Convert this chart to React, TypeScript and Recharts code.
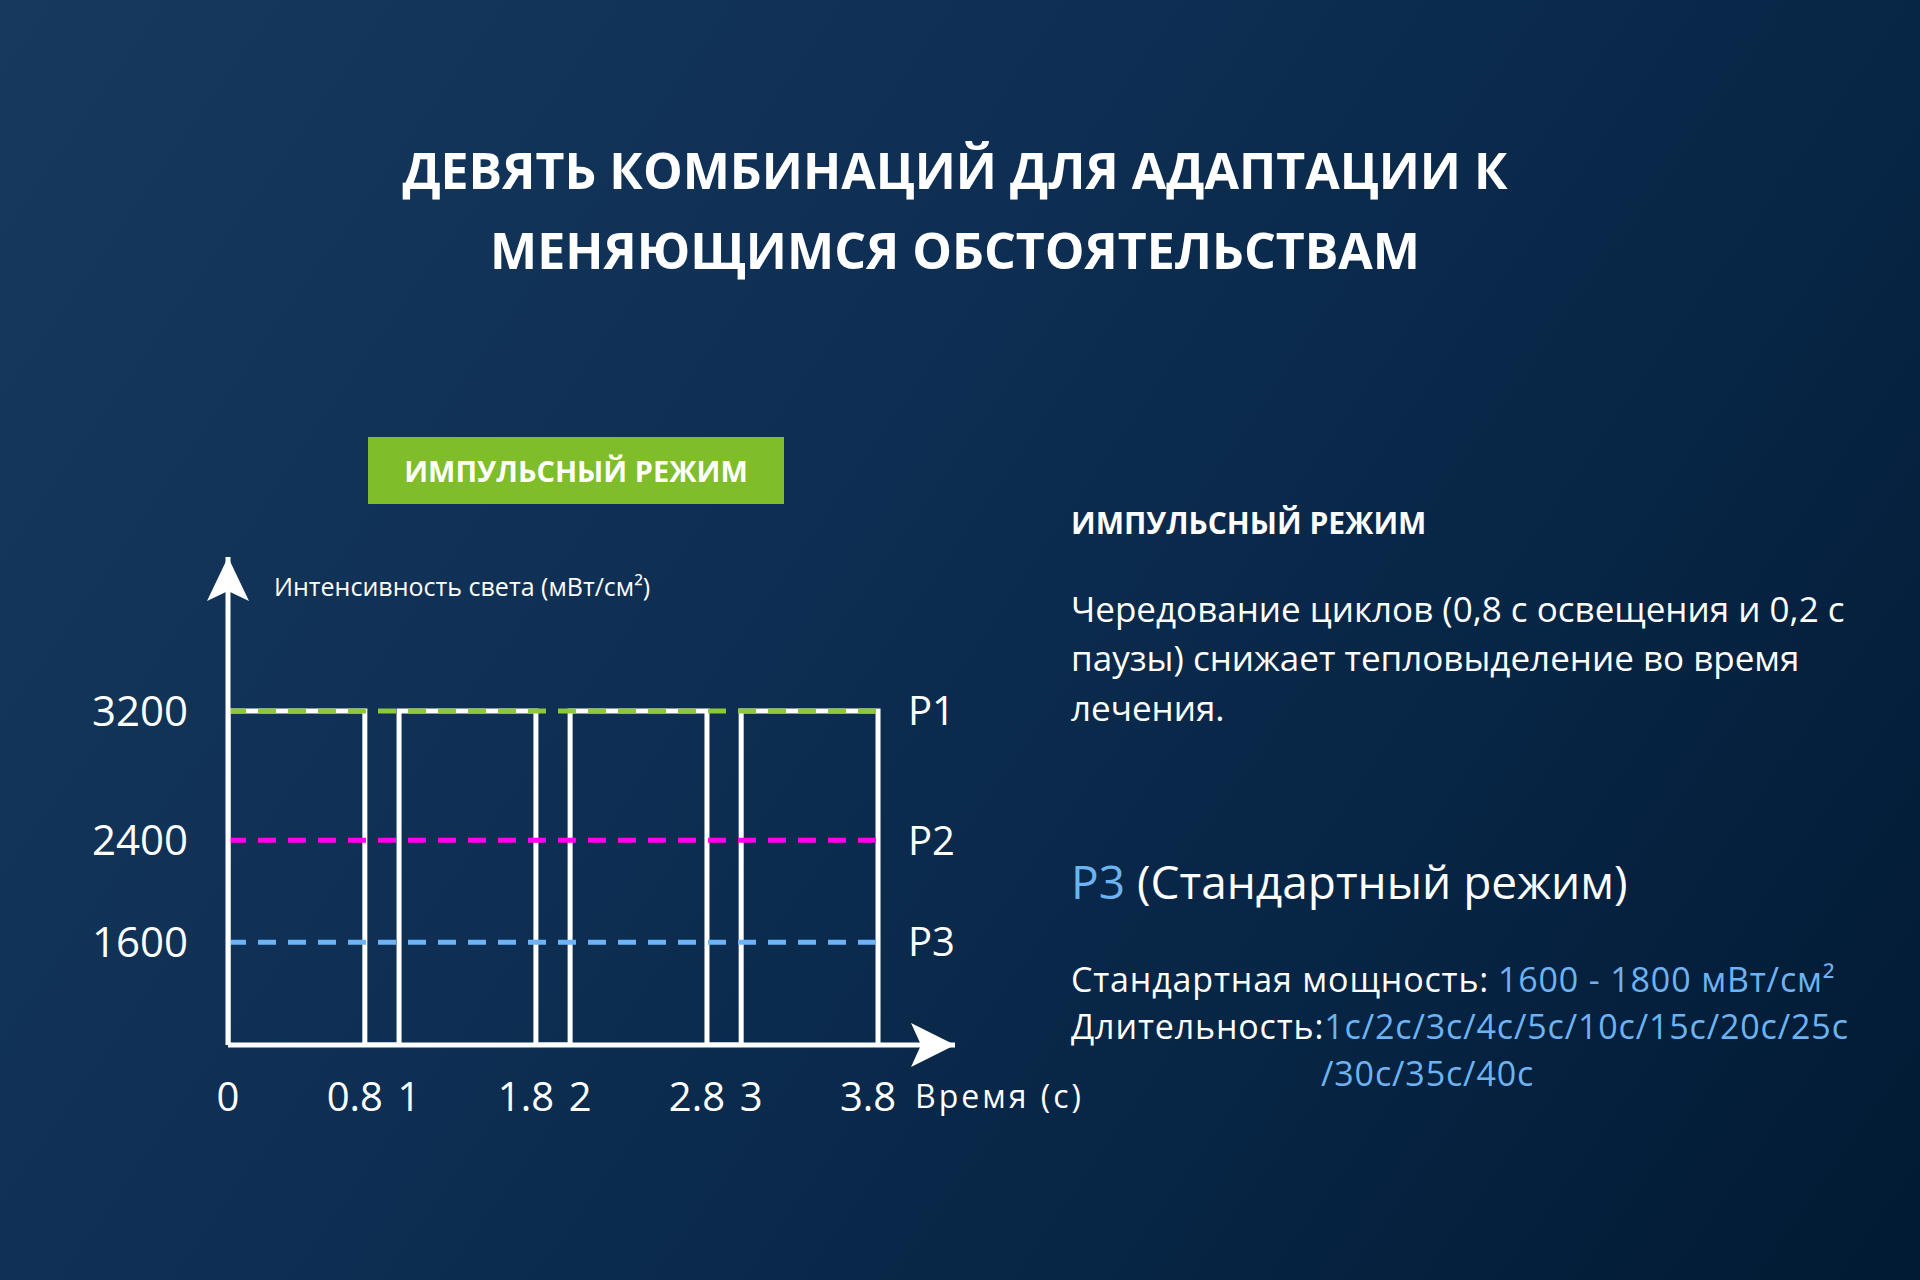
import React from 'react';
import { LineChart, Line, XAxis, YAxis, ReferenceDot, LabelList } from 'recharts';

// ---- data ----
const titleLines = ['ДЕВЯТЬ КОМБИНАЦИЙ ДЛЯ АДАПТАЦИИ К', 'МЕНЯЮЩИМСЯ ОБСТОЯТЕЛЬСТВАМ'];
const badgeText = 'ИМПУЛЬСНЫЙ РЕЖИМ';
const yAxisTitle = 'Интенсивность света (мВт/см²)';
const xAxisTitle = 'Время (с)';

const pulseStarts = [0, 1, 2, 3];
const pulseEnds = [0.8, 1.8, 2.8, 3.8];
const pulsePeak = 3200;
const xTicks = [0, 0.8, 1, 1.8, 2, 2.8, 3, 3.8];
const yTicks = [1600, 2400, 3200];
const levelNames = ['P1', 'P2', 'P3'];
const levelValues = [3200, 2400, 1600];
const xDomain = [0, 4.25];
const yDomain = [0, 4000];

const sideHeading = 'ИМПУЛЬСНЫЙ РЕЖИМ';
const sideParagraph = [
  'Чередование циклов (0,8 с освещения и 0,2 с',
  'паузы) снижает тепловыделение во время',
  'лечения.',
];
const modeName = 'P3';
const modeLabel = '(Стандартный режим)';
const powerLabel = 'Стандартная мощность:';
const powerRange = '1600 - 1800 мВт/см²';
const durationLabel = 'Длительность:';
const durations = ['1с', '2с', '3с', '4с', '5с', '10с', '15с', '20с', '25с', '30с', '35с', '40с'];

// ---- styles ----
const levelColors = ['#8dc63f', '#ff00f0', '#6db3f5'];
const accentBlue = '#6db3f2';
const FONT = '"Open Sans", "Noto Sans", sans-serif';

// build outline of the pulses
const pulseData: { t: number; v: number }[] = [];
pulseStarts.forEach((s, i) => {
  const e = pulseEnds[i];
  pulseData.push({ t: s, v: 0 }, { t: s, v: pulsePeak }, { t: e, v: pulsePeak }, { t: e, v: 0 });
});
const levelData = levelValues.map((v) => [
  { t: pulseStarts[0], v },
  { t: pulseEnds[pulseEnds.length - 1], v },
]);

// schematic (power-law) vertical scale, d3-like interface
function powScale(exponent: number): any {
  let dom: number[] = [0, 1];
  let rng: number[] = [0, 1];
  const f = (v: number) => Math.sign(v) * Math.pow(Math.abs(v), exponent);
  const fi = (v: number) => Math.sign(v) * Math.pow(Math.abs(v), 1 / exponent);
  const scale: any = (value: any) => {
    const x = Number(value);
    const a = f(dom[0]);
    const b = f(dom[dom.length - 1]);
    const t = b === a ? 0.5 : (f(x) - a) / (b - a);
    return rng[0] + t * (rng[rng.length - 1] - rng[0]);
  };
  scale.domain = (...args: any[]) => {
    if (args.length === 0) return dom.slice();
    dom = Array.from(args[0] as any[]).map(Number);
    return scale;
  };
  scale.range = (...args: any[]) => {
    if (args.length === 0) return rng.slice();
    rng = Array.from(args[0] as any[]).map(Number);
    return scale;
  };
  scale.invert = (y: number) => {
    const a = f(dom[0]);
    const b = f(dom[dom.length - 1]);
    const t = (y - rng[0]) / (rng[rng.length - 1] - rng[0]);
    return fi(a + t * (b - a));
  };
  scale.copy = () => powScale(exponent).domain(dom).range(rng);
  scale.ticks = (count = 5) => {
    const lo = dom[0];
    const hi = dom[dom.length - 1];
    const step = (hi - lo) / Math.max(1, count);
    const out: number[] = [];
    for (let i = 0; i <= count; i++) out.push(lo + step * i);
    return out;
  };
  scale.tickFormat = () => (v: number) => String(v);
  scale.clamp = () => scale;
  scale.nice = () => scale;
  scale.unknown = () => scale;
  return scale;
}
const yScale = powScale(1.7);

const UpArrow = (props: any) => {
  const { cx, cy } = props;
  if (cx == null || cy == null) return null;
  return (
    <path
      d={`M${cx},${cy} L${cx - 21},${cy + 44} L${cx},${cy + 34} L${cx + 21},${cy + 44} Z`}
      fill="#ffffff"
    />
  );
};
const RightArrow = (props: any) => {
  const { cx, cy } = props;
  if (cx == null || cy == null) return null;
  return (
    <path
      d={`M${cx},${cy} L${cx - 44},${cy - 22} L${cx - 34},${cy} L${cx - 44},${cy + 22} Z`}
      fill="#ffffff"
    />
  );
};

// x tick: pulse-end labels sit a little to the left, pulse-start labels to the right
const XTick = (props: any) => {
  const { x, y, payload } = props;
  const v = Number(payload?.value);
  const shift = v === 0 ? 0 : Number.isInteger(v) ? 10 : -10;
  return (
    <text
      x={Number(x) + shift}
      y={Number(y)}
      dy="0.71em"
      textAnchor="middle"
      fill="#ffffff"
      fontSize={40}
      fontFamily={FONT}
    >
      {String(v)}
    </text>
  );
};

const makeLevelLabel = (name: string) => (p: any) => {
  if (p.index !== 1) return null;
  const x = Number(p.x);
  const y = Number(p.y);
  return (
    <text x={x + 30} y={y + 0.357 * 40} fill="#ffffff" fontSize={40} fontFamily={FONT}>
      {name}
    </text>
  );
};

const abs = (left: number, top: number, extra: React.CSSProperties = {}): React.CSSProperties => ({
  position: 'absolute',
  left,
  top,
  whiteSpace: 'nowrap',
  lineHeight: 1,
  ...extra,
});

export default function App() {
  return (
    <div
      style={{
        position: 'fixed',
        left: 0,
        top: 0,
        width: 1920,
        height: 1280,
        overflow: 'hidden',
        background: 'linear-gradient(125deg, #17395e 0%, #0e2f53 40%, #072545 70%, #021a33 100%)',
        fontFamily: FONT,
        color: '#ffffff',
      }}
    >
      {/* title */}
      {titleLines.map((line, i) => (
        <div
          key={i}
          style={abs(0, 144.5 + i * 80, {
            width: 1910,
            textAlign: 'center',
            fontSize: 50,
            fontWeight: 700,
          })}
        >
          {line}
        </div>
      ))}

      {/* green badge */}
      <div
        style={{
          position: 'absolute',
          left: 368,
          top: 437,
          width: 416,
          height: 67,
          background: '#80bd2a',
          display: 'flex',
          alignItems: 'center',
          justifyContent: 'center',
          fontSize: 29,
          fontWeight: 700,
          whiteSpace: 'nowrap',
        }}
      >
        {badgeText}
      </div>

      {/* chart */}
      <div style={{ position: 'absolute', left: 0, top: 0 }}>
        <LineChart
          width={1920}
          height={1280}
          margin={{ top: 557, right: 965, bottom: 234, left: 227 }}
        >
          <XAxis
            type="number"
            dataKey="t"
            domain={xDomain}
            allowDataOverflow
            ticks={xTicks}
            interval={0}
            height={1}
            tickLine={false}
            tickSize={0}
            tickMargin={38}
            axisLine={{ stroke: '#ffffff', strokeWidth: 5 }}
            tick={XTick}
          />
          <YAxis
            type="number"
            dataKey="v"
            scale={yScale}
            domain={yDomain}
            allowDataOverflow
            ticks={yTicks}
            interval={0}
            width={1}
            tickLine={false}
            tickSize={0}
            tickMargin={40}
            axisLine={{ stroke: '#ffffff', strokeWidth: 5 }}
            tick={{ fill: '#ffffff', fontSize: 42, fontFamily: FONT }}
          />
          <Line
            data={pulseData}
            dataKey="v"
            type="linear"
            stroke="#ffffff"
            strokeWidth={5}
            strokeLinejoin="miter"
            dot={false}
            activeDot={false}
            isAnimationActive={false}
          />
          {levelData.map((d, i) => (
            <Line
              key={levelNames[i]}
              data={d}
              dataKey="v"
              type="linear"
              stroke={levelColors[i]}
              strokeWidth={5}
              strokeDasharray="18 12"
              dot={false}
              activeDot={false}
              isAnimationActive={false}
            >
              <LabelList dataKey="v" content={makeLevelLabel(levelNames[i])} />
            </Line>
          ))}
          <ReferenceDot x={xDomain[0]} y={yDomain[1]} ifOverflow="visible" shape={UpArrow} />
          <ReferenceDot x={xDomain[1]} y={yDomain[0]} ifOverflow="visible" shape={RightArrow} />
        </LineChart>
      </div>

      {/* axis titles */}
      <div style={abs(274, 574, { fontSize: 25 })}>{yAxisTitle}</div>
      <div style={abs(915, 1080, { fontSize: 32, letterSpacing: 3 })}>{xAxisTitle}</div>

      {/* right side text */}
      <div style={abs(1071, 508, { fontSize: 30, fontWeight: 700 })}>{sideHeading}</div>
      {sideParagraph.map((line, i) => (
        <div key={i} style={abs(1071, 590.5 + i * 49.5, { fontSize: 35 })}>
          {line}
        </div>
      ))}
      <div style={abs(1071, 858, { fontSize: 46, display: 'flex', gap: '0.26em' })}>
        <span style={{ color: accentBlue }}>{modeName}</span>
        <span>{modeLabel}</span>
      </div>
      <div style={abs(1071, 962, { fontSize: 34, letterSpacing: 0.85, display: 'flex', gap: '0.26em' })}>
        <span>{powerLabel}</span>
        <span style={{ color: accentBlue }}>{powerRange}</span>
      </div>
      <div style={abs(1071, 1009, { fontSize: 34, letterSpacing: 0.85, display: 'flex' })}>
        <span>{durationLabel}</span>
        <span style={{ color: accentBlue }}>{durations.slice(0, 9).join('/')}</span>
      </div>
      <div style={abs(1321, 1056, { fontSize: 34, letterSpacing: 0.85, color: accentBlue })}>
        {'/' + durations.slice(9).join('/')}
      </div>
    </div>
  );
}
